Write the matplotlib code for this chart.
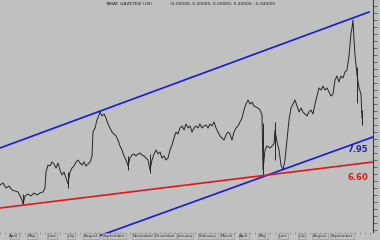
import matplotlib
matplotlib.use("Agg")
import matplotlib.pyplot as plt
from matplotlib.ticker import MultipleLocator
from matplotlib.transforms import blended_transform_factory

# trading day index and close
days = [0, 3, 6, 9, 12, 15, 18, 20, 22, 23, 25, 28, 31, 34, 37, 40, 43, 45, 46, 48,
        50, 52, 54, 56, 58, 60, 62, 64, 66, 68, 70, 72, 74, 76, 78, 80, 82, 84, 86, 88,
        90, 92, 93, 95, 97, 99, 100, 102, 104, 106, 108, 110, 112, 114, 116, 118, 120, 122, 124, 126,
        128, 130, 132, 134, 136, 138, 140, 142, 144, 146, 148, 150, 152, 154, 156, 158, 160, 162, 164, 166,
        168, 170, 172, 174, 176, 178, 180, 182, 184, 186, 188, 190, 192, 194, 196, 198, 200, 202, 204, 206,
        208, 210, 212, 214, 216, 218, 220, 222, 224, 226, 228, 230, 232, 234, 236, 238, 240, 242, 244, 246,
        248, 250, 252, 254, 256, 258, 260, 262, 263, 265, 267, 270, 272, 274, 275, 277, 279, 281, 283, 285,
        287, 289, 291, 293, 295, 297, 299, 301, 303, 305, 307, 309, 311, 313, 315, 317, 319, 321, 323, 325,
        327, 329, 331, 333, 335, 337, 339, 341, 343, 345, 347, 349, 351, 352, 353, 354, 355, 357, 359, 361,
        362]
close = [5.75, 5.85, 5.6, 5.7, 5.5, 5.45, 5.4, 5.2, 5.0, 4.8, 5.2, 5.3, 5.2, 5.35, 5.25, 5.35, 5.4, 5.6, 6.4, 6.75,
         6.7, 6.9, 6.8, 6.6, 6.85, 6.5, 6.25, 6.4, 6.1, 5.8, 6.4, 6.6, 6.7, 6.9, 7.0, 6.85, 6.75, 6.9, 6.7, 6.8,
         6.9, 7.2, 8.4, 8.6, 9.0, 9.25, 9.4, 9.2, 9.3, 9.1, 8.8, 8.6, 8.4, 8.3, 8.2, 8.0, 7.7, 7.5, 7.2, 7.0,
         6.7, 7.1, 7.25, 7.3, 7.2, 7.3, 7.35, 7.25, 7.2, 7.1, 7.0, 6.5, 7.0, 7.3, 7.5, 7.3, 7.4, 7.1, 7.2, 7.0,
         7.1, 7.5, 7.75, 8.1, 8.4, 8.3, 8.6, 8.7, 8.5, 8.8, 8.6, 8.7, 8.4, 8.6, 8.7, 8.6, 8.8, 8.6, 8.7, 8.75,
         8.6, 8.8, 8.7, 8.9, 8.6, 8.4, 8.2, 8.1, 8.0, 8.25, 8.4, 8.3, 8.0, 8.4, 8.6, 8.7, 8.9, 9.1, 9.5, 9.8,
         10.0, 9.8, 9.9, 9.7, 9.65, 9.6, 9.5, 9.25, 6.5, 7.5, 7.7, 7.6, 7.7, 7.8, 8.5, 7.9, 7.5, 6.75, 6.5, 7.0,
         8.0, 9.0, 9.6, 9.8, 10.0, 9.7, 9.4, 9.6, 9.4, 9.3, 9.2, 9.4, 9.5, 9.3, 9.8, 10.2, 10.6, 10.5, 10.7, 10.5,
         10.6, 10.4, 10.2, 10.3, 11.0, 11.2, 10.9, 11.2, 11.1, 11.4, 11.5, 12.2, 13.35, 13.6, 14.0, 13.0, 12.25, 11.25, 10.6, 10.3,
         9.1]

# high-low bars on the big days
bar_days = [23, 68, 128, 150, 263, 275, 357, 362]
bar_low = [4.8, 5.6, 6.5, 6.35, 6.25, 7.0, 9.85, 8.75]
bar_high = [5.3, 6.4, 7.2, 7.3, 8.85, 8.9, 11.65, 9.5]

# trend lines (start day, start value, end day, end value)
upper_chan = [0, 7.6, 369, 14.4]
lower_chan = [100, 3.22, 373, 8.15]
support = [0, 4.6, 373, 6.9]

months = ["April", "May", "June", "July", "August", "September", "November", "December",
          "January", "February", "March", "April", "May", "June", "July", "August", "September"]
month_pos = [14, 32, 52, 71, 91, 114, 143, 165, 185, 208, 227, 244, 263, 283, 302, 320, 342]

bg = "#c0c0c0"
fig = plt.figure(figsize=(3.8, 2.4), dpi=100, facecolor=bg)
ax = fig.add_axes([0, 8 / 240, 373 / 380, 232 / 240], facecolor=bg)

ax.plot(days, close, color="#262626", lw=0.7)
ax.vlines(bar_days, bar_low, bar_high, color="#262626", lw=0.7)

ax.plot(upper_chan[0::2], upper_chan[1::2], color="#1818e0", lw=1.2)
ax.plot(lower_chan[0::2], lower_chan[1::2], color="#1818e0", lw=1.2, clip_on=False)
ax.plot(support[0::2], support[1::2], color="#e01818", lw=1.2)

ax.text(347, 7.55, "7.95", color="#2020d0", fontsize=6, fontweight="bold", va="center")
ax.text(348, 6.1, "6.60", color="#e01818", fontsize=6, fontweight="bold", va="center")

top = blended_transform_factory(ax.transData, ax.transAxes)
ax.text(105, 0.983, "TARAF GAZETESI (LN)", transform=top, fontsize=3.2, va="center", color="#202020")
ax.text(170, 0.983, "(0.00000, 0.20000, 0.00000, 0.20000, -0.04000)", transform=top,
        fontsize=3.2, va="center", color="#202020")

ax.set_xlim(0, 373)
ax.set_ylim(3.4, 15.0)

for s in ["top", "left", "bottom"]:
    ax.spines[s].set_visible(False)
ax.spines["right"].set_color("#404040")
ax.spines["right"].set_linewidth(0.8)
ax.yaxis.tick_right()
ax.yaxis.set_major_locator(MultipleLocator(0.35))
ax.tick_params(axis="y", direction="out", length=3, width=0.5, colors="#404040", labelright=False)
ax.xaxis.set_major_locator(MultipleLocator(5))
ax.tick_params(axis="x", direction="out", length=1.5, width=0.4, colors="#707070", labelbottom=False)

for m, xp in zip(months, month_pos):
    ax.text(xp, -0.017, m, transform=top, fontsize=2.9, ha="center", va="center", color="#303030",
            bbox=dict(boxstyle="square,pad=0.2", fc=bg, ec="#909090", lw=0.4), clip_on=False)

fig.savefig("out.png", dpi=100, facecolor=bg)
